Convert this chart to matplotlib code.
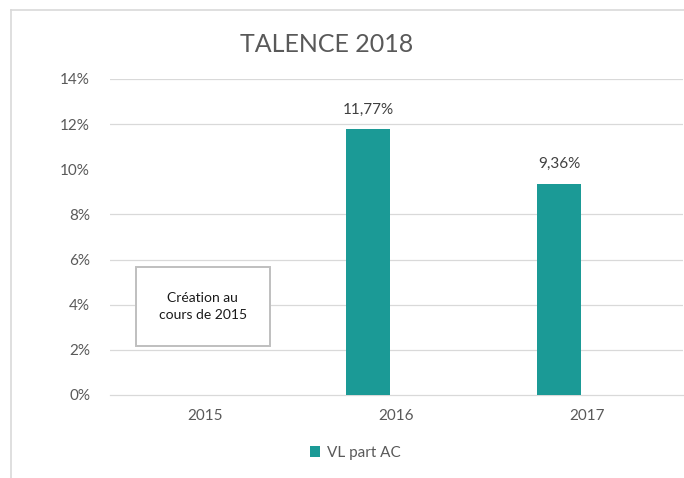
import matplotlib.pyplot as plt
from matplotlib.patches import Rectangle
import numpy as np

# chart data
years = ["2015", "2016", "2017"]
vl_part_ac = [np.nan, 11.77, 9.36]   # % ; no value for 2015 (created during 2015)
value_labels = ["", "11,77%", "9,36%"]
y_ticks = [0, 2, 4, 6, 8, 10, 12, 14]
hidden_grid = [10]   # this gridline does not show in the source image
series_name = "VL part AC"
note_text = "Création au\ncours de 2015"

teal = "#1B9A96"
grid_grey = "#D9D9D9"
text_grey = "#595959"

plt.rcParams['font.family'] = ['Lato', 'DejaVu Sans']

fig = plt.figure(figsize=(6.84, 4.78), dpi=100)
ax = fig.add_axes([109.5 / 684, 1 - 395 / 478, 573 / 684, 316 / 478])

x = np.arange(len(years))
offset = -28 / 191   # bars sit left of the category centre (empty 2nd series in source)
bars = ax.bar(x + offset, vl_part_ac, width=44 / 191, color=teal, label=series_name, zorder=3)

for xi, v, lab in zip(x, vl_part_ac, value_labels):
    if lab:
        ax.annotate(lab, (xi + offset, v), xytext=(0, 9), textcoords="offset points",
                    ha="center", va="bottom", fontsize=11, color="#404040")

ax.set_xlim(-0.5, 2.5)
ax.set_ylim(0, 14)
ax.set_xticks(x)
ax.set_xticklabels(years)
ax.set_yticks(y_ticks)
ax.set_yticklabels([f"{t}%" for t in y_ticks])
ax.tick_params(axis="both", length=0, labelsize=11, labelcolor=text_grey)
ax.tick_params(axis="y", pad=14)
ax.tick_params(axis="x", pad=10)

for t in y_ticks[1:]:
    if t not in hidden_grid:
        ax.axhline(t, color=grid_grey, linewidth=0.9, zorder=0)
for s in ["top", "right", "left"]:
    ax.spines[s].set_visible(False)
ax.spines["bottom"].set_color(grid_grey)
ax.spines["bottom"].set_linewidth(0.9)

# note box
ax.add_patch(Rectangle((0.046, 0.155), 0.234, 0.25, transform=ax.transAxes,
                       facecolor="white", edgecolor="#BFBFBF", linewidth=1.4, zorder=4))
ax.text(0.046 + 0.117, 0.155 + 0.125, note_text, transform=ax.transAxes,
        ha="center", va="center", fontsize=10, color="#1A1A1A", zorder=5, linespacing=1.5)

fig.text(327 / 684, 1 - 44 / 478, "TALENCE 2018", ha="center", va="center",
         fontsize=18, color=text_grey)

fig.legend(handles=[bars], labels=[series_name], loc="center",
           bbox_to_anchor=(355 / 684, 1 - 453 / 478), frameon=False, fontsize=11,
           handlelength=0.7, handleheight=0.7, handletextpad=0.4, labelcolor=text_grey)

# outer chart border (top and left edges visible)
fig.add_artist(plt.Line2D([11 / 684, 1], [1 - 10 / 478, 1 - 10 / 478], color=grid_grey, linewidth=1.2))
fig.add_artist(plt.Line2D([11 / 684, 11 / 684], [0, 1 - 10 / 478], color=grid_grey, linewidth=1.2))

fig.savefig("out.png", dpi=100)
